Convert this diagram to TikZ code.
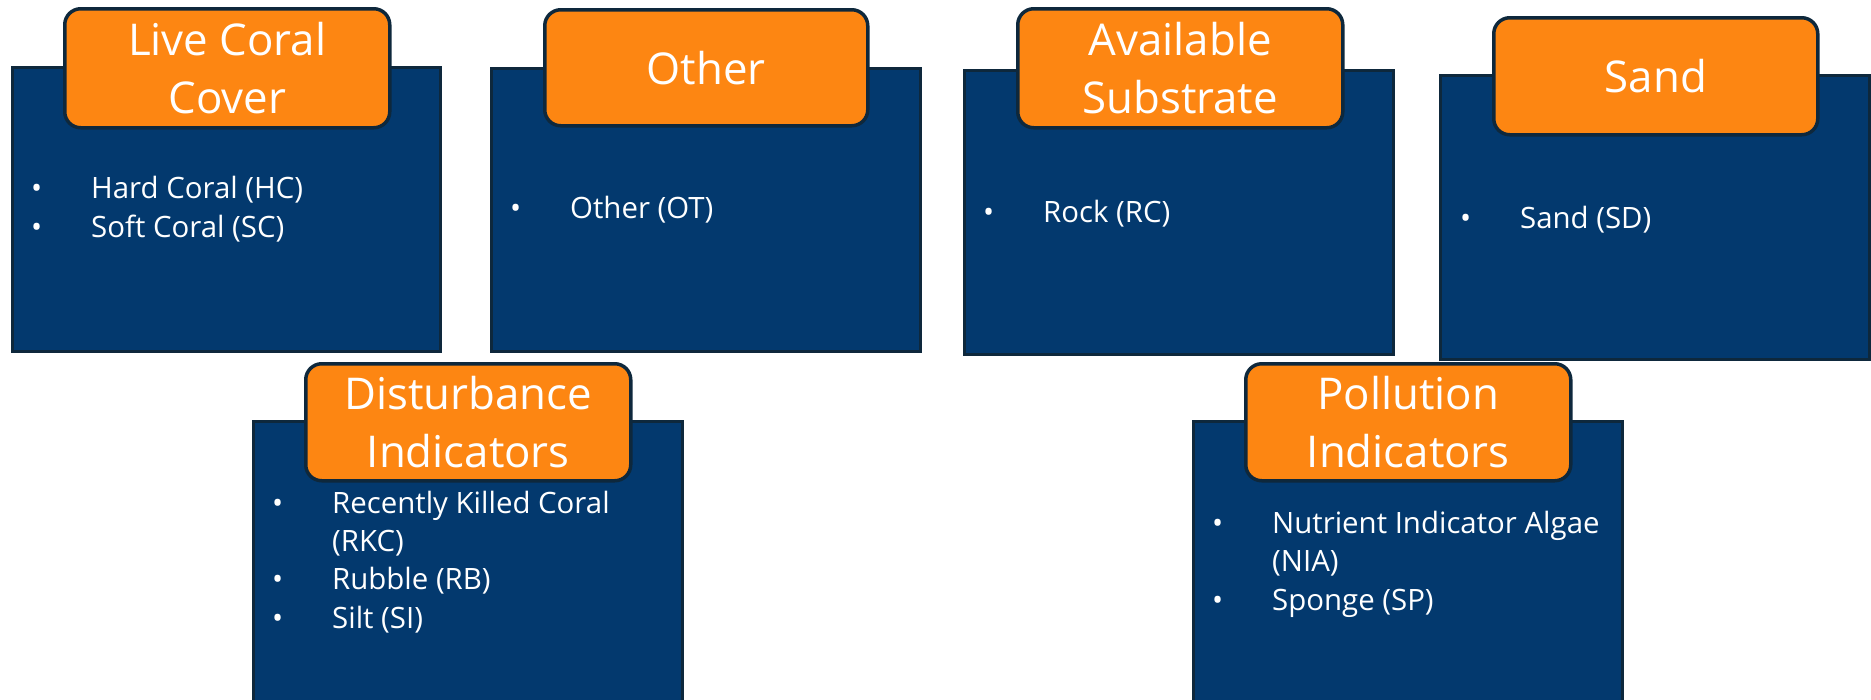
\documentclass[tikz,border=0pt]{standalone}
\usepackage{fontspec}
\setmainfont{Open Sans}
\definecolor{boxblue}{RGB}{3,57,110}
\definecolor{edgeblue}{RGB}{14,40,60}
\definecolor{tagorange}{RGB}{253,134,18}
\tikzset{
  panel/.style={draw=edgeblue, line width=3pt, fill=boxblue, rectangle, anchor=north west, inner sep=0pt},
  tag/.style={draw=edgeblue, line width=3.5pt, fill=tagorange, rounded corners=16pt, anchor=north west, inner sep=0pt},
  tagtext/.style={text=white, align=center, inner sep=0pt, font=\fontsize{43.8}{58}\selectfont},
  items/.style={text=white, align=left, inner sep=0pt, anchor=base west, font=\fontsize{29.4}{38.2}\selectfont},
}
\newcommand{\bul}{\makebox[60pt][l]{•}}
\newcommand{\cont}{\hspace*{60pt}}
\begin{document}
\begin{tikzpicture}[x=1pt,y=-1pt]
\useasboundingbox (0,0) rectangle (1871,699);
\clip (0,0) rectangle (1871,699);
% panels
\node[panel, minimum width=428pt, minimum height=284pt] (p1) at (11,66) {};
\node[panel, minimum width=429pt, minimum height=283pt] (p2) at (490,67) {};
\node[panel, minimum width=429pt, minimum height=284pt] (p3) at (963,69) {};
\node[panel, minimum width=429pt, minimum height=284pt] (p4) at (1439,74) {};
\node[panel, minimum width=429pt, minimum height=320pt] (p5) at (252,420) {};
\node[panel, minimum width=429pt, minimum height=320pt] (p6) at (1192,420) {};
% tags
\node[tag, minimum width=325pt, minimum height=119pt] (t1) at (63,7) {};
\node[tag, minimum width=323pt, minimum height=116pt] (t2) at (543,8) {};
\node[tag, minimum width=325pt, minimum height=119pt] (t3) at (1016,7) {};
\node[tag, minimum width=324pt, minimum height=117pt] (t4) at (1492,16) {};
\node[tag, minimum width=325pt, minimum height=117pt] (t5) at (304,362) {};
\node[tag, minimum width=325pt, minimum height=117pt] (t6) at (1244,362) {};
% tag texts
\node[tagtext] (h1) at (t1.center) {Live Coral\\Cover};
\node[tagtext] (h2) at (t2.center) {Other};
\node[tagtext] (h3) at (t3.center) {Available\\Substrate};
\node[tagtext] (h4) at (t4.center) {Sand};
\node[tagtext] (h5) at (t5.center) {Disturbance\\Indicators};
\node[tagtext] (h6) at (t6.center) {Pollution\\Indicators};
% items (base anchor = baseline of the last line)
\node[items] (l1) at (31,237) {\bul Hard Coral (HC)\\\bul Soft Coral (SC)};
\node[items] (l2) at (510,218) {\bul Other (OT)};
\node[items] (l3) at (983,222) {\bul Rock (RC)};
\node[items] (l4) at (1460,228) {\bul Sand (SD)};
\node[items] (l5) at (272,628) {\bul Recently Killed Coral\\\cont (RKC)\\\bul Rubble (RB)\\\bul Silt (SI)};
\node[items] (l6) at (1212,610) {\bul Nutrient Indicator Algae\\\cont (NIA)\\\bul Sponge (SP)};
\end{tikzpicture}
\end{document}
